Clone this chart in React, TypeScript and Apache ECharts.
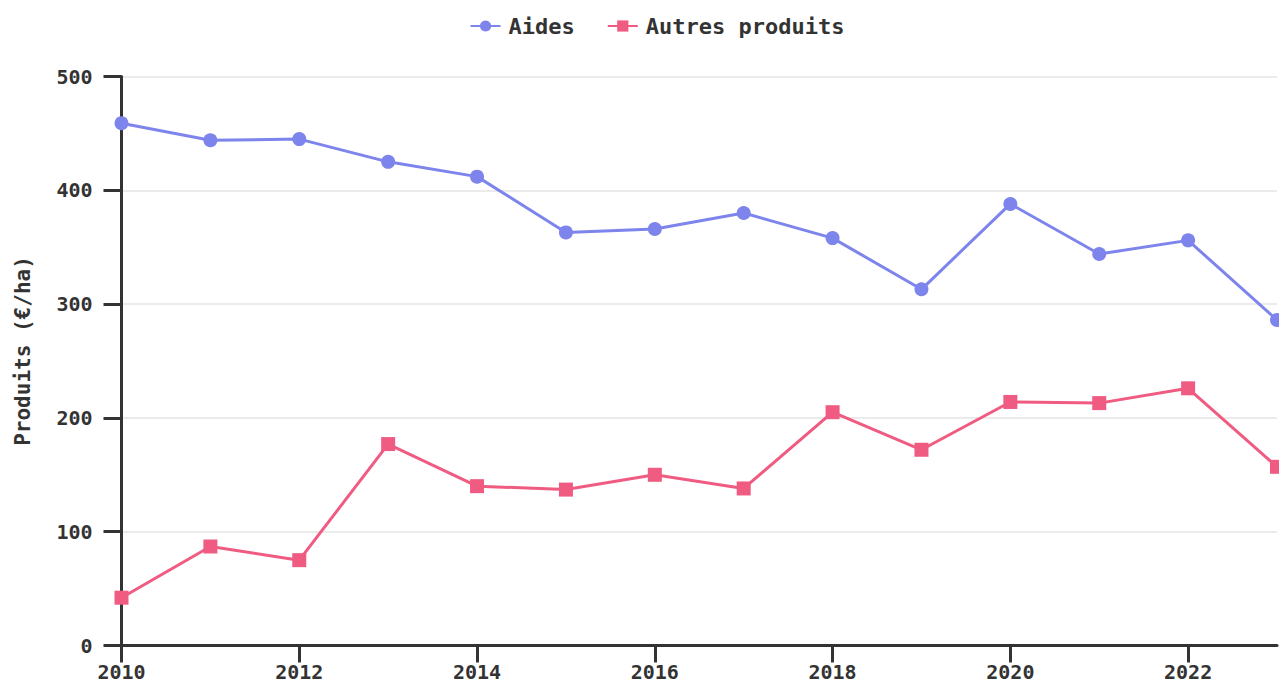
import React, { useEffect, useRef } from "react";
import * as echarts from "echarts";

const years = ["2010", "2011", "2012", "2013", "2014", "2015", "2016", "2017", "2018", "2019", "2020", "2021", "2022", "2023"];
const aides = [459, 444, 445, 425, 412, 363, 366, 380, 358, 313, 388, 344, 356, 286];
const autresProduits = [42, 87, 75, 177, 140, 137, 150, 138, 205, 172, 214, 213, 226, 157];
const yTicks = { min: 0, max: 500, interval: 100 };

const FONT = "'DejaVu Sans Mono', monospace";
const TEXT = "#333333";
const AXIS = "#333333";

export default function App() {
  const ref = useRef<HTMLDivElement>(null);
  useEffect(() => {
    document.body.style.margin = "0";
    document.body.style.overflow = "hidden";
    if (!ref.current) return;
    const chart = echarts.init(ref.current, null, { renderer: "svg" });
    chart.setOption({
      animation: false,
      backgroundColor: "#ffffff",
      legend: {
        top: 10,
        left: "center",
        itemWidth: 30,
        itemHeight: 14,
        itemGap: 32,
        textStyle: { fontFamily: FONT, fontWeight: "bold", fontSize: 22, color: TEXT, padding: [0, 0, 0, 3] },
        data: ["Aides", "Autres produits"],
      },
      grid: { left: 121.5, right: 37, top: 76.5, bottom: 36.5, containLabel: false },
      xAxis: {
        type: "category",
        data: years,
        boundaryGap: false,
        axisLine: { lineStyle: { color: AXIS, width: 3 } },
        axisTick: { show: true, length: 17, interval: 1, lineStyle: { color: AXIS, width: 3 } },
        axisLabel: { interval: 1, margin: 16, fontFamily: FONT, fontWeight: "bold", fontSize: 20, color: TEXT },
        splitLine: { show: false },
      },
      yAxis: {
        type: "value",
        min: yTicks.min,
        max: yTicks.max,
        interval: yTicks.interval,
        name: "Produits (€/ha)",
        nameLocation: "middle",
        nameGap: 88,
        nameTextStyle: { fontFamily: FONT, fontWeight: "bold", fontSize: 21, color: TEXT, padding: [0, 0, 0, 20] },
        axisLine: { show: true, lineStyle: { color: AXIS, width: 3 } },
        axisTick: { show: true, length: 18, lineStyle: { color: AXIS, width: 3 } },
        axisLabel: { margin: 29, fontFamily: FONT, fontWeight: "bold", fontSize: 20, color: TEXT },
        splitLine: { show: true, lineStyle: { color: "#e5e5e5", width: 1.5 } },
      },
      series: [
        {
          name: "Aides",
          type: "line",
          data: aides,
          symbol: "circle",
          symbolSize: 14,
          itemStyle: { color: "#7d84ec" },
          lineStyle: { color: "#7d84ec", width: 3 },
        },
        {
          name: "Autres produits",
          type: "line",
          data: autresProduits,
          symbol: "rect",
          symbolSize: 14,
          itemStyle: { color: "#f05b82" },
          lineStyle: { color: "#f05b82", width: 3 },
        },
      ],
    });
    return () => chart.dispose();
  }, []);
  return <div ref={ref} style={{ width: 1314, height: 682 }} />;
}
